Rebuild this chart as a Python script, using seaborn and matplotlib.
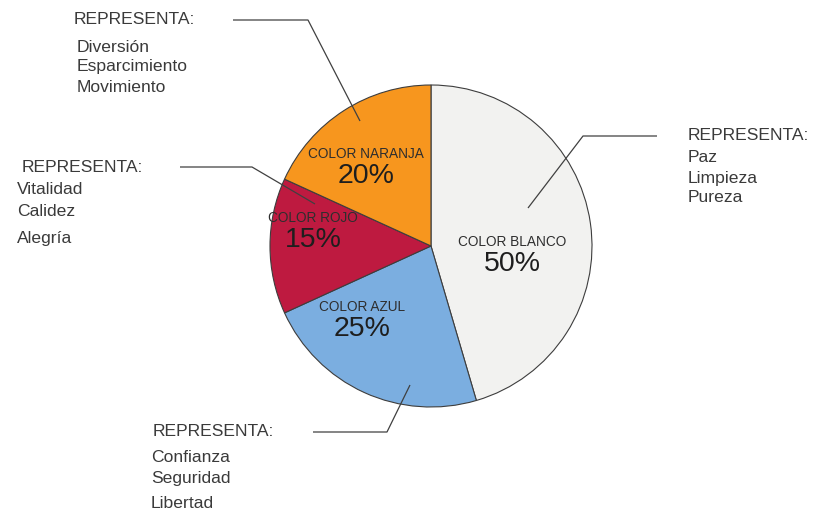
import matplotlib
matplotlib.use("Agg")
import matplotlib.pyplot as plt
import seaborn as sns

# --- data -------------------------------------------------------------
categories = ["COLOR BLANCO", "COLOR AZUL", "COLOR ROJO", "COLOR NARANJA"]
shares = [50, 25, 15, 20]
slice_colors = ["#F2F2F0", "#7BAEE0", "#BE1A40", "#F7961E"]
header = "REPRESENTA:"
meanings = [
    ["Paz", "Limpieza", "Pureza"],
    ["Confianza", "Seguridad", "Libertad"],
    ["Vitalidad", "Calidez", "Alegría"],
    ["Diversión", "Esparcimiento", "Movimiento"],
]

# --- layout (pixel coordinates, origin top-left) -----------------------
W, H = 818, 515
CX, CY, R = 431, 246, 161

# slice label anchors: (x, y of name, y of percentage)
slice_label_pos = [(512, 242, 264), (362, 307, 329), (313, 218, 240), (366, 154, 176)]
# annotation blocks: header (x, y), item x, item ys
block_pos = [
    ((688, 135), 688, [157, 178, 198]),
    ((153, 432), 151, [457, 478, 503]),
    ((22, 167), 17, [190, 212, 238]),
    ((74, 20), 77, [47, 67, 88]),
]
# leader lines from the block header to a point inside the slice
leader_pts = [
    [(657, 136), (583, 136), (528, 208)],
    [(313, 432), (387, 432), (410, 385)],
    [(180, 167), (252, 167), (315, 204)],
    [(233, 20), (308, 20), (360, 121)],
]

sns.set_theme(style="white")
plt.rcParams["font.family"] = ["Liberation Sans", "DejaVu Sans"]

fig = plt.figure(figsize=(W / 100, H / 100), dpi=100)
ax = fig.add_axes([0, 0, 1, 1])

palette = sns.color_palette(slice_colors)
ax.pie(
    shares,
    colors=palette,
    startangle=90,
    counterclock=False,
    center=(CX, H - CY),
    radius=R,
    wedgeprops=dict(edgecolor="#3d3d3d", linewidth=0.8),
)
ax.set_xlim(0, W)
ax.set_ylim(0, H)
ax.set_aspect("equal")
ax.axis("off")

text_col = "#3a3a3a"
for name, val, (x, yn, yp) in zip(categories, shares, slice_label_pos):
    ax.text(x, H - yn, name, ha="center", va="center", fontsize=9.8,
            color="#2e2e2e")
    ax.text(x, H - yp, f"{val}%", ha="center", va="center", fontsize=20.5,
            color="#1e1e1e")

for items, ((hx, hy), ix, iys) in zip(meanings, block_pos):
    ax.text(hx, H - hy, header, ha="left", va="center", fontsize=12.6,
            color=text_col)
    for item, iy in zip(items, iys):
        ax.text(ix, H - iy, item, ha="left", va="center", fontsize=12.6,
                color=text_col)

for pts in leader_pts:
    xs = [p[0] for p in pts]
    ys = [H - p[1] for p in pts]
    ax.plot(xs, ys, color="#404040", linewidth=0.9, solid_capstyle="butt")

fig.savefig("out.png", dpi=100, facecolor="white")
